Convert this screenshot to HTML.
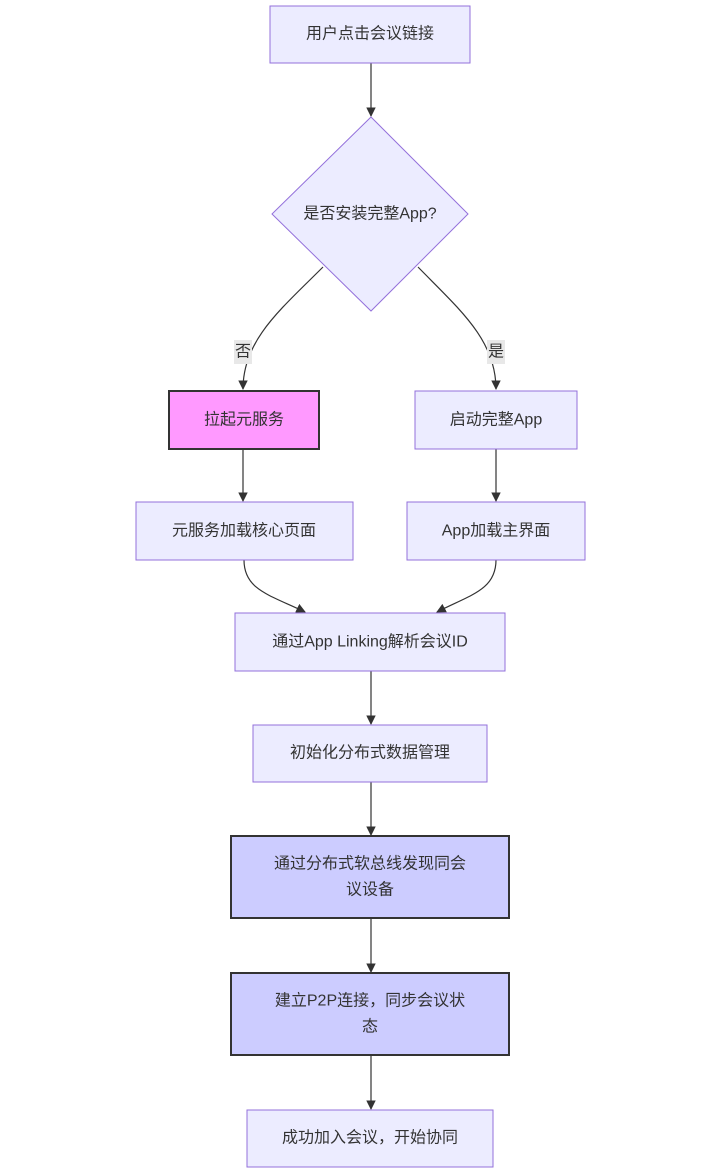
<!DOCTYPE html>
<html><head><meta charset="utf-8"><style>
html,body{margin:0;padding:0;background:#fff;}
svg text{font-family:"Liberation Sans","Noto Sans CJK SC",sans-serif;font-size:16px;fill:#333;text-anchor:middle;dominant-baseline:central;}
</style></head><body>
<svg width="712" height="1170" viewBox="0 0 712 1170" xmlns="http://www.w3.org/2000/svg">
<defs><marker id="a" viewBox="0 0 10 10" refX="9" refY="5" markerWidth="8" markerHeight="8" orient="auto"><path d="M0,0L10,5L0,10z" fill="#333"/></marker></defs>
<g stroke="#333" stroke-width="1.2" fill="none" marker-end="url(#a)">
<path d="M371,63V116"/>
<path d="M323,267C280,310 243,340 243,389"/>
<path d="M418,267C460,310 496,340 496,389"/>
<path d="M243,449V501"/>
<path d="M496,449V501"/>
<path d="M244,560C244,590 270,595 305,612"/>
<path d="M496,560C496,590 470,595 437,612"/>
<path d="M371,671V724"/>
<path d="M371,782V835"/>
<path d="M371,918V972"/>
<path d="M371,1055V1109"/>
</g>
<g fill="#ECECFF" stroke="#9370DB" stroke-width="1">
<rect x="270" y="6" width="200" height="57"/>
<polygon points="371,117 468,214 371,311 272,214"/>
<rect x="415" y="391" width="162" height="58"/>
<rect x="136" y="502" width="217" height="58"/>
<rect x="407" y="502" width="178" height="58"/>
<rect x="235" y="613" width="270" height="58"/>
<rect x="253" y="725" width="234" height="57"/>
<rect x="247" y="1110" width="246" height="57"/>
</g>
<rect x="169" y="391" width="150" height="58" fill="#f9f" stroke="#333" stroke-width="2"/>
<rect x="231" y="836" width="278" height="82" fill="#ccf" stroke="#333" stroke-width="2"/>
<rect x="231" y="973" width="278" height="82" fill="#ccf" stroke="#333" stroke-width="2"/>
<rect x="234" y="340" width="18" height="24" fill="#e8e8e8"/>
<rect x="487" y="340" width="18" height="24" fill="#e8e8e8"/>
<text x="370" y="34">用户点击会议链接</text>
<text x="370" y="214">是否安装完整App?</text>
<text x="243" y="352">否</text>
<text x="496" y="352">是</text>
<text x="244" y="420">拉起元服务</text>
<text x="496" y="420">启动完整App</text>
<text x="244" y="531">元服务加载核心页面</text>
<text x="496" y="531">App加载主界面</text>
<text x="370" y="642">通过App Linking解析会议ID</text>
<text x="370" y="753">初始化分布式数据管理</text>
<text x="370" y="864">通过分布式软总线发现同会</text>
<text x="370" y="890">议设备</text>
<text x="370" y="1001">建立P2P连接，同步会议状</text>
<text x="370" y="1027">态</text>
<text x="370" y="1138">成功加入会议，开始协同</text>
</svg>
</body></html>
